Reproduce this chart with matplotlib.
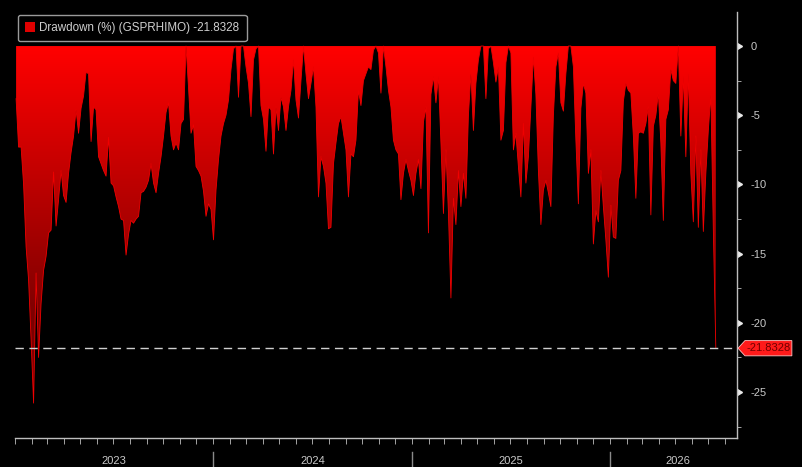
import matplotlib
matplotlib.use("Agg")
import matplotlib.pyplot as plt
import matplotlib.dates as mdates
import matplotlib.transforms as mtransforms
from matplotlib.colors import LinearSegmentedColormap, Normalize
from matplotlib.patches import Patch, Polygon
from matplotlib.ticker import MultipleLocator, NullLocator
import numpy as np
import pandas as pd

plt.rcParams['font.family'] = ['Liberation Sans', 'DejaVu Sans']
plt.rcParams['axes.unicode_minus'] = False

drawdown = [
    -3.8, -7.3, -7.3, -10.0, -14.5, -16.9, -21.2, -25.8, -16.4, -22.5,
    -18.6, -16.2, -15.2, -13.5, -13.3, -9.1, -13.0, -11.1, -9.0, -10.8,
    -11.3, -9.2, -7.7, -6.5, -4.6, -6.3, -4.5, -3.6, -1.9, -2.0,
    -6.9, -4.4, -4.6, -8.0, -8.5, -9.0, -9.4, -6.6, -9.9, -10.1,
    -10.9, -11.6, -12.5, -12.6, -15.1, -13.6, -12.6, -12.8, -12.5, -12.3,
    -10.6, -10.5, -10.2, -9.7, -8.5, -9.9, -10.6, -9.2, -8.0, -6.5,
    -4.8, -4.1, -6.5, -7.5, -7.0, -7.5, -5.6, -5.3, 0.0, -3.0,
    -6.3, -5.7, -8.7, -9.0, -9.4, -10.5, -12.3, -11.4, -11.8, -14.0,
    -10.4, -8.2, -6.5, -5.6, -5.0, -3.9, -1.7, -0.2, 0.0, -3.7,
    0.0, 0.0, -1.5, -2.7, -5.1, -1.0, -0.2, 0.0, -4.3, -5.3,
    -7.6, -4.4, -4.6, -7.8, -4.4, -6.1, -3.7, -4.4, -6.1, -4.4,
    -3.2, -1.0, -3.9, -5.2, -2.5, 0.0, -2.0, -3.8, -2.7, -1.5,
    -4.4, -10.9, -8.0, -8.7, -9.9, -13.2, -13.1, -8.5, -7.0, -5.6,
    -5.1, -6.3, -7.5, -10.9, -7.8, -8.0, -6.8, -3.2, -4.3, -2.5,
    -2.0, -1.5, -1.7, -0.3, 0.0, -0.5, -3.4, 0.0, -1.5, -3.2,
    -4.4, -6.8, -7.5, -7.8, -11.1, -9.2, -8.2, -9.0, -9.7, -10.8,
    -9.2, -8.2, -10.3, -5.5, -4.4, -13.5, -3.5, -2.2, -4.1, -2.2,
    -7.0, -12.1, -7.5, -12.0, -18.2, -11.0, -12.9, -9.0, -11.6, -9.2,
    -11.0, -5.0, -2.0, -6.1, -2.7, -1.0, 0.0, 0.0, -3.8, -0.2,
    0.0, -1.2, -2.6, -1.5, -6.8, -6.1, -1.2, 0.0, -0.5, -7.5,
    -6.3, -8.7, -10.9, -5.6, -9.9, -8.0, -4.4, -0.8, -3.5, -9.0,
    -12.9, -10.4, -9.7, -10.6, -11.6, -5.0, -1.5, -0.5, -4.1, -4.7,
    -2.0, 0.0, 0.0, -1.5, -6.8, -11.4, -4.5, -2.7, -3.4, -9.2,
    -7.5, -14.3, -11.9, -12.7, -9.0, -11.6, -14.0, -16.7, -11.5, -13.8,
    -13.9, -9.7, -9.0, -4.0, -2.7, -3.2, -3.4, -6.5, -11.0, -6.3,
    -6.2, -6.3, -5.6, -4.4, -12.2, -5.8, -5.0, -3.4, -7.0, -12.6,
    -5.3, -4.6, -1.7, -2.5, -2.7, 0.0, -6.5, -2.2, -8.0, -2.0,
    -9.2, -12.7, -6.5, -13.1, -7.5, -13.4, -9.2, -6.1, -3.5, -13.3,
    -21.8328,
]
last_value = -21.8328
y_ticks = [0, -5, -10, -15, -20, -25]
years = ["2023", "2024", "2025", "2026"]
year_starts = ["2024-01-01", "2025-01-01", "2026-01-01"]
year_centers = ["2023-07-02", "2024-07-02", "2025-07-02", "2026-05-06"]

dates = pd.date_range("2023-01-03", "2026-07-15", periods=len(drawdown))
x = mdates.date2num(dates)
y = np.array(drawdown)

fig = plt.figure(figsize=(8.03, 4.67), dpi=100, facecolor="black")
ax = fig.add_axes([15 / 803, 29 / 467, 722 / 803, 426 / 467])
ax.set_facecolor("black")

x0 = mdates.date2num(pd.Timestamp("2023-01-01"))
x1 = mdates.date2num(pd.Timestamp("2026-08-23"))
ax.set_xlim(x0, x1)
ax.set_ylim(-28.32, 2.46)

# gradient red fill between 0 and the drawdown curve
fill = ax.fill_between(x, y, 0, facecolor="none", edgecolor="none")
cmap = LinearSegmentedColormap.from_list("dd", ["#7a0000", "#ff0000"])
grad = np.linspace(0, -28.32, 256).reshape(-1, 1)
im = ax.imshow(grad, extent=[x0, x1, -28.32, 0], origin="upper", aspect="auto",
               cmap=cmap, norm=Normalize(vmin=-20, vmax=0), zorder=1)
im.set_clip_path(fill.get_paths()[0], transform=ax.transData)
ax.plot(x, y, color="#f00000", lw=0.6, zorder=2)

ax.axhline(last_value, color="#cfcfcf", lw=1, dashes=(6, 4), zorder=3)

# spines
for side in ["left", "top"]:
    ax.spines[side].set_visible(False)
for side in ["right", "bottom"]:
    ax.spines[side].set_color("#bdbdbd")
    ax.spines[side].set_linewidth(1)

# bottom axis: monthly ticks, year labels with separators
ax.xaxis.set_major_locator(NullLocator())
ax.xaxis.set_minor_locator(mdates.MonthLocator())
ax.xaxis.set_minor_formatter(plt.NullFormatter())
ax.tick_params(axis="x", which="minor", length=4, color="#bdbdbd", direction="out")
tr_x = mtransforms.blended_transform_factory(ax.transData, ax.transAxes)
for d in year_starts:
    xd = mdates.date2num(pd.Timestamp(d))
    ax.plot([xd, xd], [-0.033, -0.075], transform=tr_x, color="#8a8a8a",
            lw=1, clip_on=False)
for lab, d in zip(years, year_centers):
    ax.text(mdates.date2num(pd.Timestamp(d)), -0.054, lab, transform=tr_x,
            ha="center", va="center", color="#c8c8c8", fontsize=8)

# right axis
ax.yaxis.tick_right()
ax.set_yticks(y_ticks)
ax.set_yticklabels([str(t) for t in y_ticks])
ax.yaxis.set_minor_locator(MultipleLocator(2.5))
ax.tick_params(axis="y", which="major", length=0, pad=10, labelcolor="#c8c8c8",
               labelsize=8)
ax.tick_params(axis="y", which="minor", length=3, color="#bdbdbd", direction="out")
tr_y = mtransforms.blended_transform_factory(ax.transAxes, ax.transData)
ax.plot([1.0] * len(y_ticks), y_ticks, transform=tr_y, ls="none", marker=9,
        ms=5, color="#e8e8e8", clip_on=False)

# last value tag
tag = Polygon([(1.0014, last_value), (1.011, last_value + 0.55),
               (1.076, last_value + 0.55), (1.076, last_value - 0.55),
               (1.011, last_value - 0.55)], closed=True, transform=tr_y,
              facecolor="#ff1a1a", edgecolor="#ffc0c0", lw=0.6, clip_on=False,
              zorder=5)
ax.add_patch(tag)
ax.text(1.0443, last_value, "-21.8328", transform=tr_y, ha="center", va="center",
        color="#700000", fontsize=8, zorder=6, clip_on=False)

# legend
leg = ax.legend(handles=[Patch(facecolor="#e00000", edgecolor="none")],
                labels=["Drawdown (%) (GSPRHIMO) -21.8328"],
                loc="upper left", bbox_to_anchor=(0.004, 0.993), fontsize=8.4,
                labelcolor="#cfcfcf", facecolor="black", edgecolor="#9a9a9a",
                framealpha=1, fancybox=True, handlelength=0.9, handleheight=0.9,
                handletextpad=0.35, borderpad=0.6, borderaxespad=0)
leg.get_frame().set_linewidth(1)

fig.savefig("out.png", dpi=100, facecolor="black")
